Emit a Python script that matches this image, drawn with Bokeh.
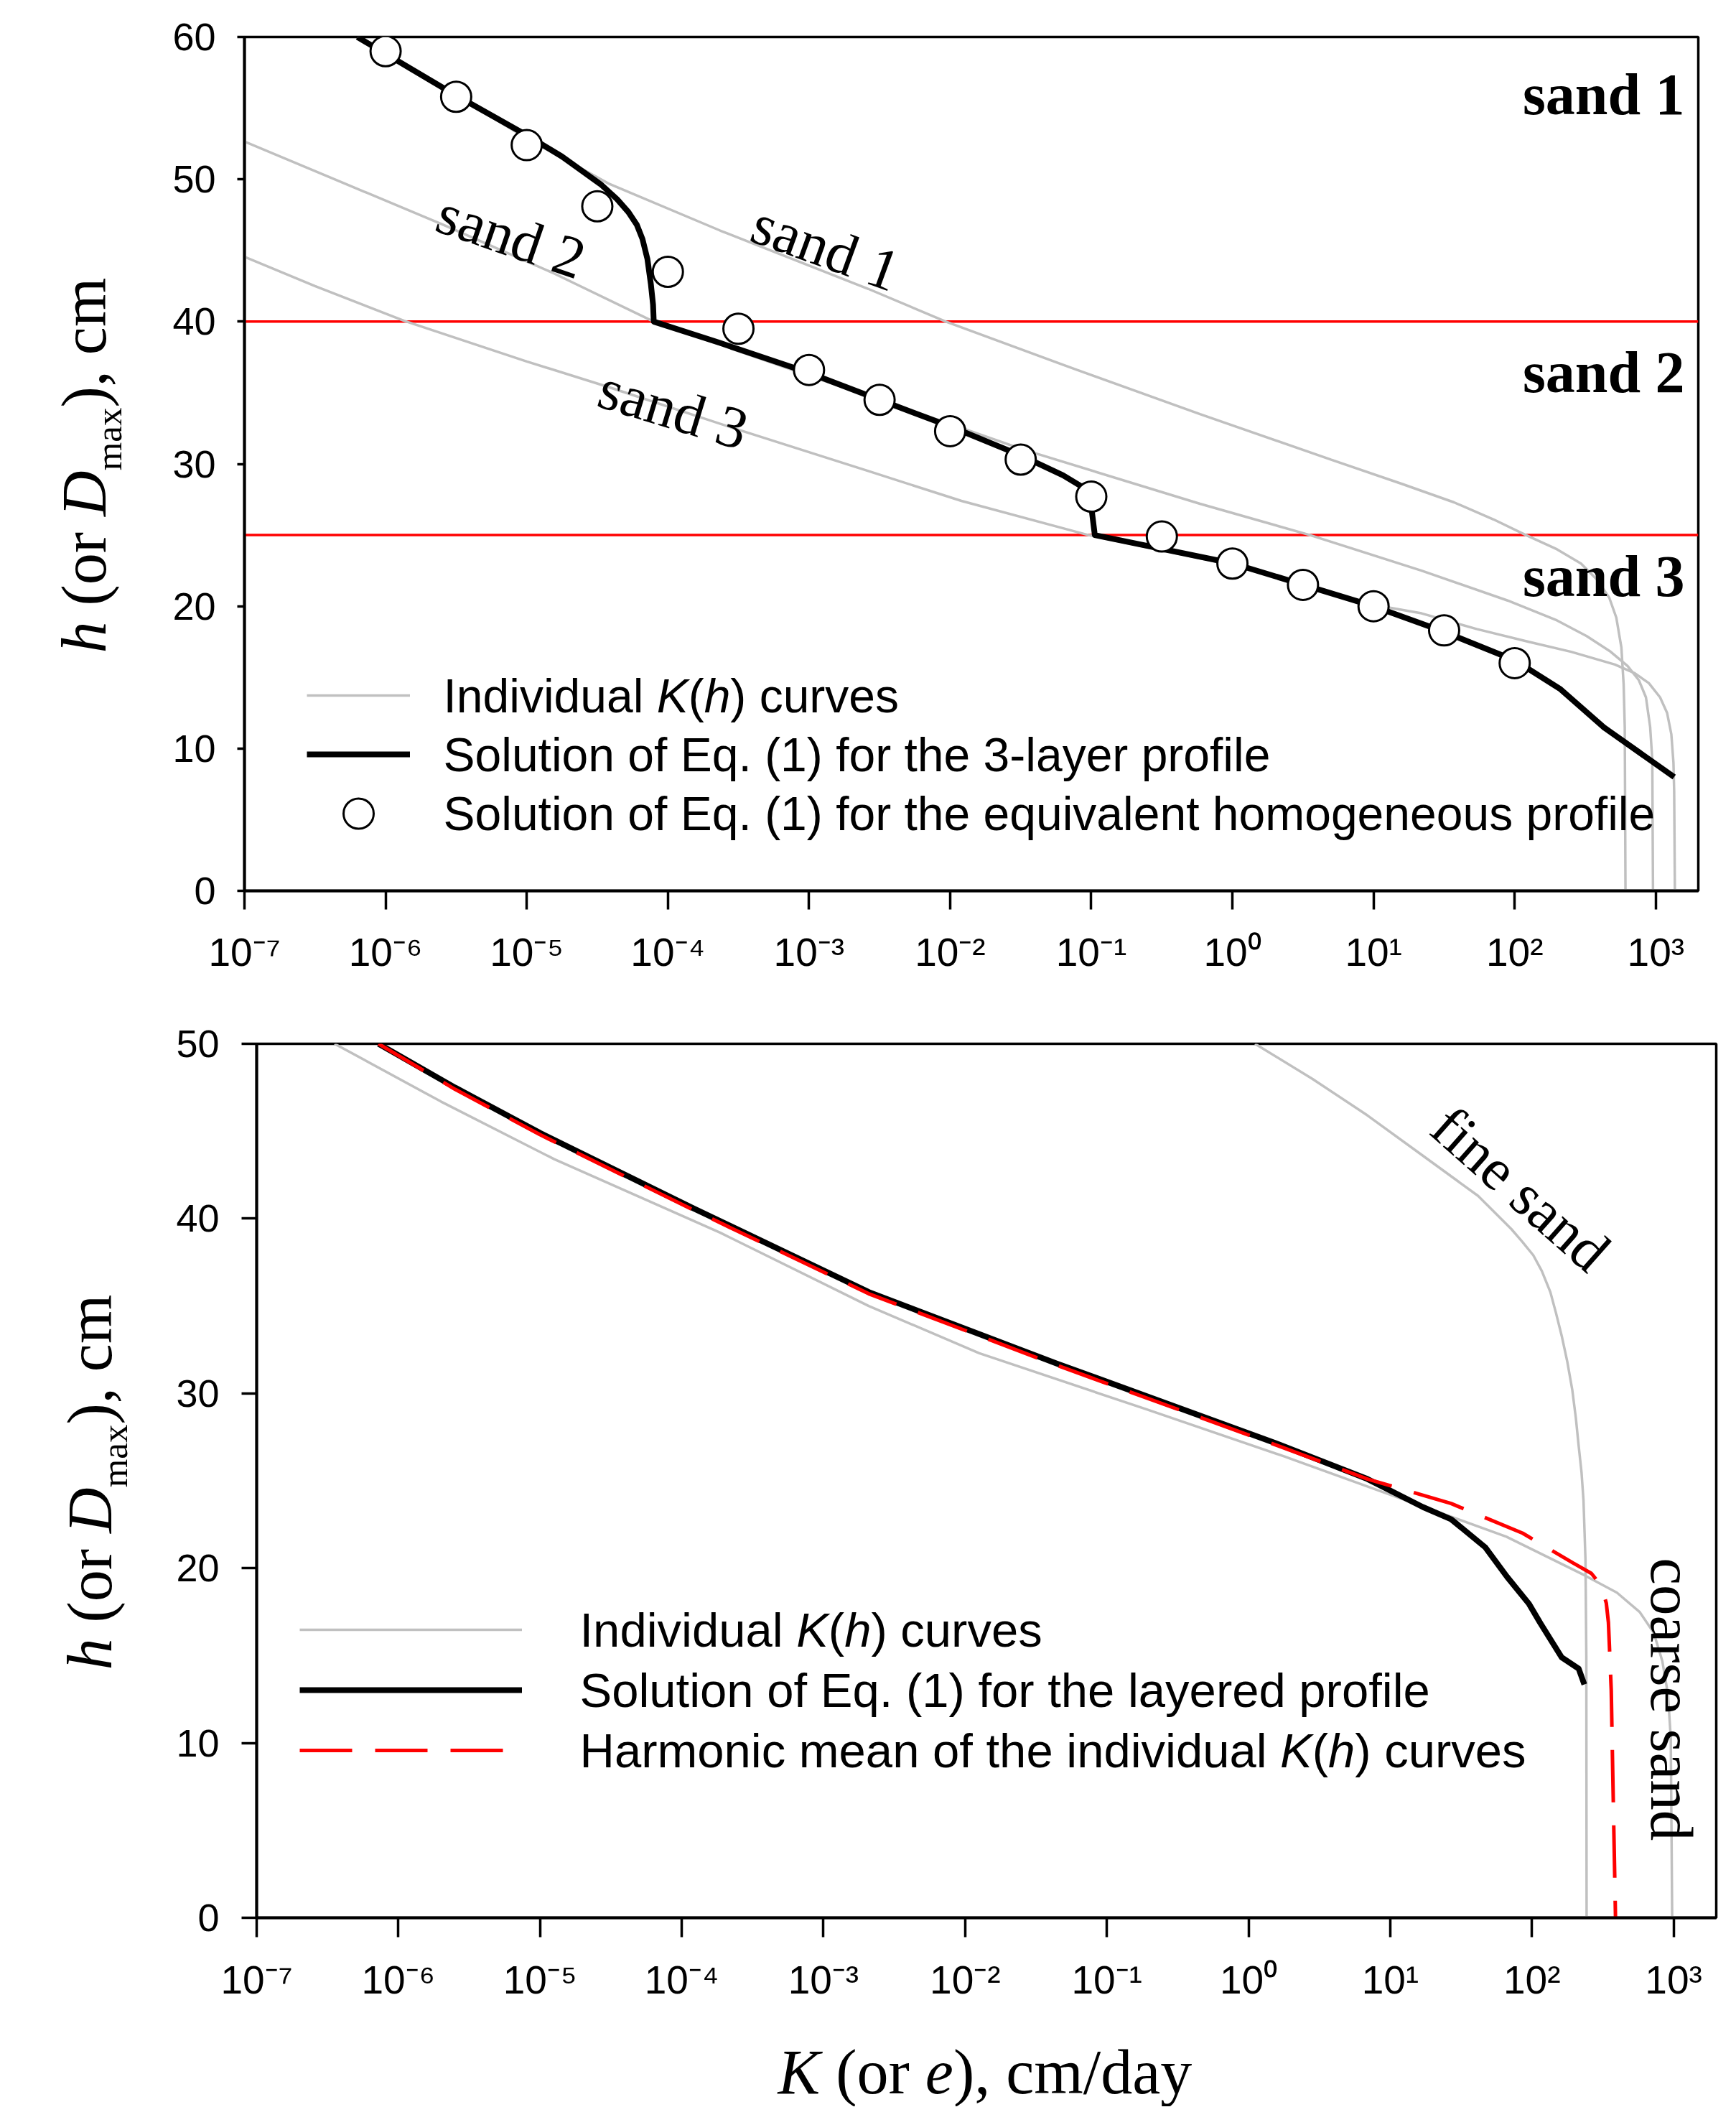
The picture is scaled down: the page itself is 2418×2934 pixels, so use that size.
import numpy as np
from bokeh.plotting import figure
from bokeh.layouts import row
from bokeh.models import FixedTicker, CustomJSTickFormatter, Label, Legend, LegendItem, Span
from bokeh.embed import file_html
from bokeh.resources import INLINE

# ---------------- shared axis values ----------------
x_tick_exponents = [-7, -6, -5, -4, -3, -2, -1, 0, 1, 2, 3]
x_limits = (1e-7, 2000.0)

# ---------------- top panel (3-layer profile) ----------------
top_h_ticks = [0, 10, 20, 30, 40, 50, 60]
layer_interfaces_h = [40, 25]

sand1_log10K = [-6.20, -5.52, -4.97, -4.42, -3.63, -2.58, -2.03, -1.10, -0.23, 0.70, 1.20, 1.57, 1.85, 2.08,
                2.30, 2.47, 2.58, 2.67, 2.72, 2.756, 2.772, 2.78, 2.785]
sand1_h = [60.0, 56.0, 52.7, 49.7, 46.4, 42.3, 40.0, 36.6, 33.5, 30.3, 28.6, 27.3, 26.1, 25.0,
           24.0, 23.0, 21.9, 20.6, 19.2, 17.1, 14.5, 11.5, 0.0]

sand2_log10K = [-7.0, -5.59, -4.81, -4.10, -3.00, -2.00, -1.48, -0.23, 0.55, 1.34, 1.95, 2.30, 2.51, 2.68,
                2.80, 2.88, 2.93, 2.96, 2.975, 2.98]
sand2_h = [52.65, 46.8, 43.4, 40.0, 36.2, 32.8, 31.0, 27.2, 25.0, 22.5, 20.4, 19.0, 17.9, 16.8,
           15.8, 14.8, 13.6, 11.5, 9.2, 0.0]

sand3_log10K = [-7.0, -6.5, -5.87, -5.0, -4.42, -3.5, -2.58, -1.92, -1.02, 0.0, 1.0, 1.34, 1.73, 2.1, 2.4,
                2.71, 2.85, 2.95, 3.03, 3.08, 3.11, 3.125, 3.13, 3.135]
sand3_h = [44.55, 42.5, 40.06, 37.2, 35.4, 32.4, 29.5, 27.4, 25.0, 22.9, 20.1, 19.5, 18.4, 17.5, 16.8,
           15.9, 15.3, 14.6, 13.6, 12.5, 11.0, 9.0, 7.0, 0.0]

layer3_solution_log10K = [-6.20, -5.52, -5.00, -4.75, -4.61, -4.47, -4.36, -4.28, -4.22, -4.18, -4.145, -4.12,
                          -4.105, -4.10, -3.63, -3.00, -2.50, -1.99, -1.50, -1.20, -1.05, -1.01, -1.00, -0.975,
                          0.006, 1.0, 1.50, 2.0, 2.32, 2.63, 3.13]
layer3_solution_h = [60.0, 56.0, 53.1, 51.6, 50.6, 49.6, 48.6, 47.7, 46.8, 45.8, 44.4, 42.6,
                     41.2, 40.0, 38.5, 36.4, 34.5, 32.6, 30.6, 29.2, 28.3, 27.7, 27.0, 25.0,
                     23.0, 20.0, 18.2, 16.2, 14.2, 11.5, 8.0]

homog_log10K = [-6.0, -5.5, -5.0, -4.5, -4.0, -3.5, -3.0, -2.5, -2.0, -1.5, -1.0, -0.5, 0.0, 0.5, 1.0, 1.5, 2.0]
homog_h = [59.0, 55.8, 52.4, 48.1, 43.5, 39.5, 36.6, 34.5, 32.3, 30.3, 27.7, 24.9, 23.0, 21.5, 20.0, 18.3, 16.0]

# ---------------- bottom panel (fine / coarse sand) ----------------
bottom_h_ticks = [0, 10, 20, 30, 40, 50]

fine_log10K = [0.046, 0.45, 0.84, 1.23, 1.62, 1.855, 1.93, 2.01, 2.07, 2.13, 2.17, 2.21, 2.25, 2.285, 2.31,
               2.33, 2.35, 2.364, 2.378, 2.384, 2.386]
fine_h = [50.0, 48.0, 45.9, 43.6, 41.3, 39.4, 38.7, 37.9, 37.0, 35.8, 34.6, 33.3, 31.8, 30.2, 28.6,
          27.0, 25.5, 23.9, 20.5, 15.0, 0.0]

coarse_log10K = [-6.45, -5.70, -4.90, -3.73, -2.68, -1.90, -0.725, 0.25, 1.035, 1.82, 2.37, 2.60, 2.76, 2.86,
                 2.92, 2.96, 2.98, 2.99]
coarse_h = [50.0, 46.7, 43.4, 39.2, 35.0, 32.3, 29.1, 26.4, 24.1, 21.8, 19.6, 18.6, 17.5, 16.3,
            14.7, 12.8, 10.3, 0.0]

harmonic_log10K = [-6.14, -5.60, -5.00, -3.92, -2.68, -1.35, 0.21, 0.84, 1.43, 1.935, 2.29, 2.42, 2.49, 2.525,
                   2.54, 2.56, 2.57, 2.59]
harmonic_h = [50.0, 47.4, 44.8, 40.5, 35.7, 31.6, 27.0, 25.1, 23.7, 22.0, 20.3, 19.7, 19.0, 18.0,
              16.9, 13.0, 8.5, 0.0]

layered_log10K = [-6.14, -5.60, -5.00, -3.92, -2.68, -1.35, 0.21, 0.84, 1.23, 1.43, 1.67, 1.825, 1.98, 2.06,
                  2.21, 2.33, 2.37]
layered_h = [50.0, 47.5, 44.9, 40.6, 35.8, 31.7, 27.1, 25.1, 23.5, 22.8, 21.2, 19.5, 17.95, 16.85,
             14.9, 14.25, 13.35]

# ---------------- styling helpers ----------------
GRAY = "#C0C0C0"
SANS = "Liberation Sans"
SERIF = "Liberation Serif"

ARIAL_W = {' ': 278, '(': 333, ')': 333, '.': 278, '-': 333, '1': 556, '3': 556, 'E': 667, 'H': 722,
           'I': 278, 'K': 667, 'S': 667, 'a': 556, 'c': 500, 'd': 556, 'e': 556, 'f': 278, 'g': 556,
           'h': 556, 'i': 222, 'l': 222, 'm': 833, 'n': 556, 'o': 556, 'p': 556, 'q': 556, 'r': 333,
           's': 500, 't': 278, 'u': 556, 'v': 500, 'y': 500}
TIMES_W = {' ': 250, '(': 333, ')': 333, ',': 250, '/': 278, 'a': 444, 'c': 444, 'd': 500, 'e': 444,
           'm': 778, 'o': 500, 'r': 333, 'x': 500, 'y': 500, 'h': 500, 'K': 667, 'D': 722}
MID = 0.3375  # em-box middle above the baseline, as a fraction of the font size


def text_width(s, table, size):
    return sum(table[c] for c in s) * size / 1000.0


def add_runs(p, runs, x0, y0, font, size, table, angle_deg=0.0):
    """Place text runs along a baseline that starts at (x0, y0) (screen units of p's frame)."""
    a = np.radians(angle_deg)
    ux, uy = np.cos(a), np.sin(a)
    nx, ny = np.sin(a), -np.cos(a)
    pos = 0.0
    for text, style, scale, shift in runs:
        fs = size * scale
        lead = len(text) - len(text.lstrip(' '))
        pos += lead * table[' '] * fs / 1000.0
        core = text.strip(' ')
        d = shift - MID * fs
        p.add_layout(Label(x=float(x0 + ux * pos + nx * d), y=float(y0 + uy * pos + ny * d),
                           x_units="screen", y_units="screen", text=core, text_font=font,
                           text_font_size=f"{fs:.1f}px", text_font_style=style, text_color="black",
                           text_align="left", text_baseline="middle",
                           angle=angle_deg, angle_units="deg"))
        pos += text_width(text.lstrip(' '), table, fs)


SUP_JS = """
const e = Math.round(Math.log10(tick));
const m = {"-": "\\u207B", "0": "\\u2070", "1": "\\u00B9", "2": "\\u00B2", "3": "\\u00B3",
           "4": "\\u2074", "5": "\\u2075", "6": "\\u2076", "7": "\\u2077", "8": "\\u2078", "9": "\\u2079"};
let s = "";
for (const c of String(e)) { s += m[c]; }
return "10" + s;
"""


def make_fig(width, height, y_max, borders, y_ticks, x_tick_out, y_tick_out, x_standoff, y_standoff):
    left, right, top, bottom = borders
    p = figure(width=width, height=height, x_axis_type="log", x_range=x_limits, y_range=(0, y_max),
               output_backend="svg", toolbar_location=None, title=None,
               min_border_left=left, min_border_right=right, min_border_top=top, min_border_bottom=bottom)
    p.background_fill_color = "white"
    p.border_fill_color = "white"
    p.outline_line_color = "black"
    p.outline_line_width = 3.5
    p.xgrid.visible = False
    p.ygrid.visible = False
    xa = p.xaxis[0]
    xa.ticker = FixedTicker(ticks=[10.0 ** e for e in x_tick_exponents], minor_ticks=[])
    xa.formatter = CustomJSTickFormatter(code=SUP_JS)
    xa.major_tick_out = x_tick_out
    xa.major_label_standoff = x_standoff
    ya = p.yaxis[0]
    ya.ticker = FixedTicker(ticks=y_ticks, minor_ticks=[])
    ya.major_tick_out = y_tick_out
    ya.major_label_standoff = y_standoff
    for ax in (xa, ya):
        ax.major_tick_in = 0
        ax.minor_tick_in = 0
        ax.minor_tick_out = 0
        ax.axis_line_width = 4
        ax.axis_line_color = "black"
        ax.major_tick_line_width = 3.5
        ax.major_tick_line_color = "black"
        ax.major_label_text_font = SANS
        ax.major_label_text_color = "black"
    xa.major_label_text_font_size = "55px"
    ya.major_label_text_font_size = "54px"
    return p


def text_fig(width, height, top=0, bottom=0):
    f = figure(width=width, height=height, x_range=(0, 1), y_range=(0, 1), output_backend="svg",
               toolbar_location=None, title=None, x_axis_location=None, y_axis_location=None,
               min_border_left=0, min_border_right=0, min_border_top=top, min_border_bottom=bottom)
    f.outline_line_color = None
    f.grid.visible = False
    f.background_fill_color = "white"
    f.border_fill_color = "white"
    return f


def add_legend(p, items, glyph_w, glyph_h, loc):
    lg = Legend(items=items, location=loc, orientation="vertical", glyph_width=glyph_w, glyph_height=glyph_h,
                label_height=glyph_h, label_width=1, label_standoff=0, spacing=0, padding=0, margin=0,
                border_line_alpha=0, background_fill_alpha=0, label_text_font_size="1px", label_text_alpha=0)
    p.add_layout(lg)


def K(arr):
    return 10.0 ** np.asarray(arr, dtype=float)


ylab_runs = [("h", "italic", 1, 0), (" (or ", "normal", 1, 0), ("D", "italic", 1, 0),
             ("max", "normal", 0.58, 22), ("), cm", "normal", 1, 0)]

# ======================= TOP PANEL =======================
p1 = make_fig(2200, 1385, 60, (140, 35, 51, 145), top_h_ticks, 26, 10, 28, 30)

for hh in layer_interfaces_h:
    p1.add_layout(Span(location=hh, dimension="width", line_color="#FF0000", line_width=3.5, level="underlay"))

g1 = p1.line(K(sand1_log10K), sand1_h, line_color=GRAY, line_width=3.5)
p1.line(K(sand2_log10K), sand2_h, line_color=GRAY, line_width=3.5)
p1.line(K(sand3_log10K), sand3_h, line_color=GRAY, line_width=3.5)
b1 = p1.line(K(layer3_solution_log10K), layer3_solution_h, line_color="black", line_width=8, line_join="round")
c1 = p1.scatter(K(homog_log10K), homog_h, marker="circle", size=42, fill_color="white",
                line_color="black", line_width=3)

add_legend(p1, [LegendItem(label=" ", renderers=[g1]), LegendItem(label=" ", renderers=[b1])], 144, 82, (87, 149))
add_legend(p1, [LegendItem(label=" ", renderers=[c1])], 144, 105, (87, 55.5))

add_runs(p1, [("Individual ", "normal", 1, 0), ("K", "italic", 1, 0), ("(", "normal", 1, 0),
              ("h", "italic", 1, 0), (") curves", "normal", 1, 0)], 277, 249, SANS, 66, ARIAL_W)
add_runs(p1, [("Solution of Eq. (1) for the 3-layer profile", "normal", 1, 0)], 277, 167, SANS, 66, ARIAL_W)
add_runs(p1, [("Solution of Eq. (1) for the equivalent homogeneous profile", "normal", 1, 0)], 277, 85, SANS, 66, ARIAL_W)

for txt, hh in (("sand 1", 55.96), ("sand 2", 36.44), ("sand 3", 22.11)):
    p1.add_layout(Label(x=2006, x_units="screen", y=hh, y_units="data", text=txt, text_align="right",
                        text_baseline="middle", text_font=SERIF, text_font_style="bold",
                        text_font_size="82px", text_color="black"))

for txt, lx, hh, ang in (("sand 1", -2.88, 45.2, -20.0), ("sand 2", -5.11, 46.0, -19.0),
                         ("sand 3", -3.96, 33.85, -17.0)):
    p1.add_layout(Label(x=10.0 ** lx, y=hh, text=txt, angle=ang, angle_units="deg", text_align="center",
                        text_baseline="middle", text_font=SERIF, text_font_size="82px", text_color="black"))

yl1 = text_fig(200, 1385, top=51, bottom=145)
add_runs(yl1, ylab_runs, 147, 331, SERIF, 88, TIMES_W, angle_deg=90)

# ======================= BOTTOM PANEL =======================
p2 = make_fig(2200, 1410, 50, (157, 10, 68, 125), bottom_h_ticks, 27, 21, 28, 31)

g2 = p2.line(K(fine_log10K), fine_h, line_color=GRAY, line_width=3.5)
p2.line(K(coarse_log10K), coarse_h, line_color=GRAY, line_width=3.5)
b2 = p2.line(K(layered_log10K), layered_h, line_color="black", line_width=8, line_join="round")
r2 = p2.line(K(harmonic_log10K), harmonic_h, line_color="#FF0000", line_width=5, line_dash="73 32")

add_legend(p2, [LegendItem(label=" ", renderers=[g2]), LegendItem(label=" ", renderers=[b2]),
                LegendItem(label=" ", renderers=[r2])], 310, 84, (60, 191))

add_runs(p2, [("Individual ", "normal", 1, 0), ("K", "italic", 1, 0), ("(", "normal", 1, 0),
              ("h", "italic", 1, 0), (") curves", "normal", 1, 0)], 450, 378, SANS, 67, ARIAL_W)
add_runs(p2, [("Solution of Eq. (1) for the layered profile", "normal", 1, 0)], 450, 294, SANS, 67, ARIAL_W)
add_runs(p2, [("Harmonic mean of the individual ", "normal", 1, 0), ("K", "italic", 1, 0), ("(", "normal", 1, 0),
              ("h", "italic", 1, 0), (") curves", "normal", 1, 0)], 450, 210, SANS, 67, ARIAL_W)

p2.add_layout(Label(x=10.0 ** 1.92, y=41.7, text="fine sand", angle=-41.5, angle_units="deg",
                    text_align="center", text_baseline="middle", text_font=SERIF, text_font_size="82px",
                    text_color="black"))
p2.add_layout(Label(x=10.0 ** 2.99, y=12.5, text="coarse sand", angle=-90, angle_units="deg",
                    text_align="center", text_baseline="middle", text_font=SERIF, text_font_size="85px",
                    text_color="black"))

yl2 = text_fig(200, 1410, top=68, bottom=125)
add_runs(yl2, ylab_runs, 155, 345, SERIF, 88, TIMES_W, angle_deg=90)

# ======================= X-AXIS TITLE =======================
xl = text_fig(2400, 138)
add_runs(xl, [("K", "italic", 1, 0), (" (or ", "normal", 1, 0), ("e", "italic", 1, 0),
              ("), cm/day", "normal", 1, 0)], 1083, 18, SERIF, 88, TIMES_W)

roots = [row(yl1, p1), row(yl2, p2), xl]
with open("out.html", "w", encoding="utf-8") as f:
    f.write(file_html(roots, INLINE))
